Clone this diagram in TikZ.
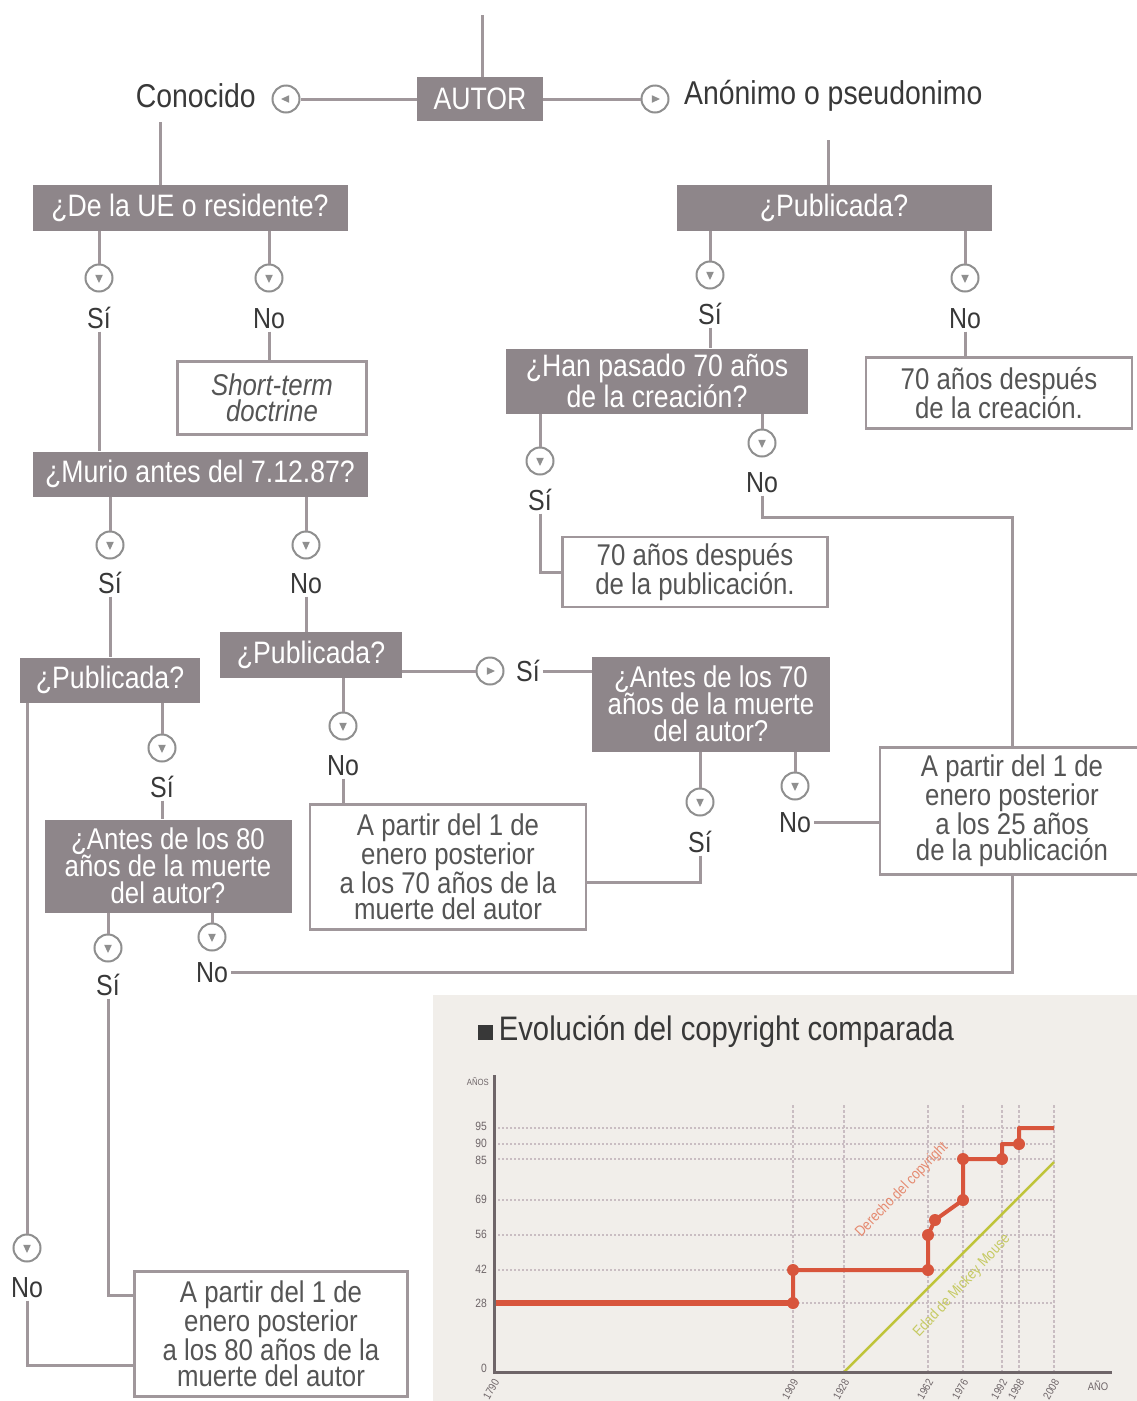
\documentclass[tikz,border=0pt]{standalone}
\usepackage{fontspec}
\setmainfont[FakeStretch=0.86]{Liberation Sans}
\usetikzlibrary{calc}
\definecolor{boxgrey}{HTML}{8E868A}
\definecolor{linegrey}{HTML}{A0979B}
\definecolor{circgrey}{HTML}{8F8F8F}
\definecolor{txtdark}{HTML}{383838}
\definecolor{txtbox}{HTML}{555555}
\definecolor{chartbg}{HTML}{F1EEEA}
\definecolor{gridc}{HTML}{C9BDC2}
\definecolor{axisc}{HTML}{6E6568}
\definecolor{redc}{HTML}{D8553C}
\definecolor{greenc}{HTML}{BFC43A}
\definecolor{redtxt}{HTML}{E58A70}
\definecolor{greentxt}{HTML}{C6CA62}
\newcommand{\fs}[2]{\fontsize{#1}{#2}\selectfont}
\tikzset{
 conn/.style={draw=linegrey, line width=3pt},
 qbox/.style={fill=boxgrey, text=white, inner sep=0pt, align=center, font=\fs{31}{27}},
 abox/.style={draw=linegrey, line width=2.5pt, fill=white, text=txtbox, inner sep=0pt, align=center, font=\fs{30}{26.5}},
 circnode/.style={circle, draw=circgrey, line width=2pt, fill=white, minimum size=27pt, inner sep=0pt},
 tri/.style={fill=circgrey},
 lbl/.style={text=txtdark, font=\fs{29}{29}, inner sep=3pt, text height=21pt, text depth=0pt},
 big/.style={text=txtdark, font=\fs{33}{33}, inner sep=2pt},
 gridh/.style={draw=gridc, line width=2pt, dash pattern=on 2pt off 2pt},
 gridv/.style={draw=gridc, line width=1.2pt, dash pattern=on 3pt off 2pt},
 ticklbl/.style={text=axisc, font=\fs{12}{12}, inner sep=1pt},
 redl/.style={draw=redc, line width=4pt, line join=round},
 reddot/.style={fill=redc},
}
\newcommand{\icon}[3]{%
 \node[circnode] (#1) at (#2) {};
 \fill[tri] ($(#1.center)+(#3:5pt)$) -- ($(#1.center)+(#3+130:5pt)$) -- ($(#1.center)+(#3-130:5pt)$) -- cycle;
}
\begin{document}
\begin{tikzpicture}[x=1pt,y=-1pt]
\useasboundingbox (0,0) rectangle (1137,1401);
\clip (0,0) rectangle (1137,1401);
\fill[white] (0,0) rectangle (1137,1401);

% ---------- top ----------
\node[qbox, minimum width=126pt, minimum height=44pt, font=\fs{31}{31}] (autor) at (480,99) {AUTOR};
\coordinate (top) at (482,15);
\draw[conn] (top) -- (top |- autor.north);
\icon{ckn}{286,99}{180}
\icon{can}{655,99}{0}
\node[big, anchor=east] (conocido) at (258,96) {Conocido};
\node[big, anchor=west] (anon) at (682,96) {Anónimo o pseudonimo};
\draw[conn] (autor.west) -- (ckn.east);
\draw[conn] (autor.east) -- (can.west);

\node[qbox, minimum width=315pt, minimum height=46pt] (ue) at (190,208) {¿De la UE o residente?};
\node[qbox, minimum width=315pt, minimum height=46pt] (puba) at (834,208) {¿Publicada?};
\coordinate (kn1) at (160,122);
\draw[conn] (kn1) -- (kn1 |- ue.north);
\coordinate (an1) at (828,140);
\draw[conn] (an1) -- (an1 |- puba.north);

% ---------- left branch ----------
\icon{cues}{99,278}{270}
\node[lbl] (uesi) at (99,318) {Sí};
\icon{cuen}{269,278}{270}
\node[lbl] (ueno) at (269,318) {No};
\draw[conn] (cues |- ue.south) -- (cues.north);
\draw[conn] (cuen |- ue.south) -- (cuen.north);
\node[abox, minimum width=189pt, minimum height=73pt, font=\itshape\fs{30}{26.5}] (short) at (272,398) {Short-term\\doctrine};
\draw[conn] (ueno.south) -- (ueno.south |- short.north);

\node[qbox, minimum width=335pt, minimum height=45pt] (mur) at (200,474) {¿Murio antes del 7.12.87?};
\draw[conn] (uesi.south) -- (uesi.south |- mur.north);

\icon{cmus}{110,545}{270}
\node[lbl] (musi) at (110,583) {Sí};
\icon{cmun}{306,545}{270}
\node[lbl] (muno) at (306,583) {No};
\draw[conn] (cmus |- mur.south) -- (cmus.north);
\draw[conn] (cmun |- mur.south) -- (cmun.north);

\node[qbox, minimum width=180pt, minimum height=45pt] (publ) at (110,680) {¿Publicada?};
\node[qbox, minimum width=182pt, minimum height=46pt] (pubm) at (311,655) {¿Publicada?};
\draw[conn] (musi.south) -- (musi.south |- publ.north);
\draw[conn] (muno.south) -- (muno.south |- pubm.north);

\icon{cpms}{490,671}{0}
\node[lbl] (pmsi) at (528,671) {Sí};
\node[qbox, minimum width=238pt, minimum height=95pt, font=\fs{30}{27}] (a70q) at (711,704) {¿Antes de los 70\\años de la muerte\\del autor?};
\draw[conn] (pubm.east |- cpms) -- (cpms.west);
\draw[conn] (pmsi.east) -- (pmsi.east -| a70q.west);

\icon{cpmn}{343,726}{270}
\node[lbl] (pmno) at (343,765) {No};
\draw[conn] (cpmn |- pubm.south) -- (cpmn.north);
\node[abox, minimum width=276pt, minimum height=125pt] (a70) at (448,867) {A partir del 1 de\\enero posterior\\a los 70 años de la\\muerte del autor};
\draw[conn] (pmno.south) -- (pmno.south |- a70.north);

\icon{caqs}{700,802}{270}
\node[lbl] (aqsi) at (700,842) {Sí};
\icon{caqn}{795,786}{270}
\node[lbl] (aqno) at (795,822) {No};
\draw[conn] (caqs |- a70q.south) -- (caqs.north);
\draw[conn] (caqn |- a70q.south) -- (caqn.north);
\draw[conn] (aqsi.south) |- ([yshift=-15pt]a70.east);
\node[abox, minimum width=264pt, minimum height=127pt] (p25) at (1012,811) {A partir del 1 de\\enero posterior\\a los 25 años\\de la publicación};
\draw[conn] (aqno.east) -- (aqno.east -| p25.west);

% ---------- right branch ----------
\icon{cpas}{710,275}{270}
\node[lbl] (pasi) at (710,314) {Sí};
\icon{cpan}{965,278}{270}
\node[lbl] (pano) at (965,318) {No};
\draw[conn] (cpas |- puba.south) -- (cpas.north);
\draw[conn] (cpan |- puba.south) -- (cpan.north);
\node[qbox, minimum width=302pt, minimum height=65pt] (hn) at (657,381) {¿Han pasado 70 años\\de la creación?};
\draw[conn] (pasi.south) -- (pasi.south |- hn.north);
\node[abox, minimum width=266pt, minimum height=71pt] (d70c) at (999,393) {70 años después\\de la creación.};
\draw[conn] (pano.south) -- (pano.south |- d70c.north);

\icon{chns}{540,461}{270}
\node[lbl] (hnsi) at (540,500) {Sí};
\icon{chnn}{762,443}{270}
\node[lbl] (hnno) at (762,482) {No};
\draw[conn] (chns |- hn.south) -- (chns.north);
\draw[conn] (chnn |- hn.south) -- (chnn.north);
\node[abox, minimum width=265pt, minimum height=70pt] (d70p) at (695,572) {70 años después\\de la publicación.};
\draw[conn] (hnsi.south) |- (d70p.west);
\coordinate (j1) at (1012,517);
\draw[conn] (hnno.south) |- (j1) -- (p25.north);

% ---------- bottom left ----------
\icon{cpls}{162,748}{270}
\node[lbl] (plsi) at (162,787) {Sí};
\draw[conn] (cpls |- publ.south) -- (cpls.north);
\node[qbox, minimum width=247pt, minimum height=93pt, font=\fs{30}{27}] (a80q) at (168,866) {¿Antes de los 80\\años de la muerte\\del autor?};
\draw[conn] (plsi.south) -- (plsi.south |- a80q.north);
\icon{cas}{108,948}{270}
\node[lbl] (asi) at (108,985) {Sí};
\icon{cano}{212,937}{270}
\node[lbl] (ano) at (212,972) {No};
\draw[conn] (cas |- a80q.south) -- (cas.north);
\draw[conn] (cano |- a80q.south) -- (cano.north);
\draw[conn] (p25.south) |- (ano.east);
\node[abox, minimum width=273pt, minimum height=125pt] (a80) at (271,1334) {A partir del 1 de\\enero posterior\\a los 80 años de la\\muerte del autor};
\draw[conn] (asi.south) |- ([yshift=39pt]a80.west);
\icon{cpln}{27,1248}{270}
\node[lbl] (plno) at (27,1287) {No};
\draw[conn] (cpln |- publ.south) -- (cpln.north);
\draw[conn] (plno.south) |- ([yshift=-31pt]a80.west);

% ---------- chart ----------
\fill[chartbg] (433,995) rectangle (1137,1401);
\node[anchor=west, text=txtdark, font=\fs{34}{34}, inner sep=0pt] (title) at (478,1031) {\textcolor{txtdark}{\rule{15pt}{15pt}}\,Evolución del copyright comparada};

\foreach \y in {1128,1144,1159,1200,1235,1270,1303}
  \draw[gridh] (494,\y) -- (1054,\y);
\foreach \x in {793,844,928,963,1002,1019,1054}
  \draw[gridv] (\x,1105) -- (\x,1372);

\foreach \y/\t in {1126/95,1143/90,1160/85,1199/69,1234/56,1269/42,1303/28,1368/0}
  \node[ticklbl, anchor=east] at (488,\y) {\t};
\node[ticklbl, anchor=east, font=\fs{9}{9}] at (490,1082) {AÑOS};
\node[ticklbl, font=\fs{11}{11}] at (1098,1386) {AÑO};
\foreach \x/\t in {494/1790,793/1909,844/1928,928/1962,963/1976,1002/1992,1019/1998,1054/2008}
  \node[ticklbl, anchor=east, rotate=60, font=\fs{11}{11}] at (\x+3,1379) {\t};

\draw[draw=greenc, line width=2.5pt] (844,1372) -- (1054,1162);
\draw[redl] (494,1303) -- (793,1303) -- (793,1270) -- (928,1270) -- (928,1235) -- (935,1220) -- (963,1200) -- (963,1159) -- (1002,1159) -- (1002,1144) -- (1019,1144) -- (1019,1128) -- (1054,1128);
\draw[draw=redc, line width=6pt] (494,1303) -- (793,1303);
\foreach \p in {{793,1303},{793,1270},{928,1270},{928,1235},{935,1220},{963,1200},{963,1159},{1002,1159},{1019,1144}}
  \fill[reddot] (\p) circle (6pt);

\draw[draw=axisc, line width=3pt] (494,1075) -- (494,1372) -- (1112,1372);

\node[text=redtxt, font=\fs{15}{15}, rotate=46, inner sep=0pt] at (902,1190) {Derecho del copyright};
\node[text=greentxt, font=\fs{15}{15}, rotate=47, inner sep=0pt] at (962,1286) {Edad de Mickey Mouse};
\end{tikzpicture}
\end{document}
